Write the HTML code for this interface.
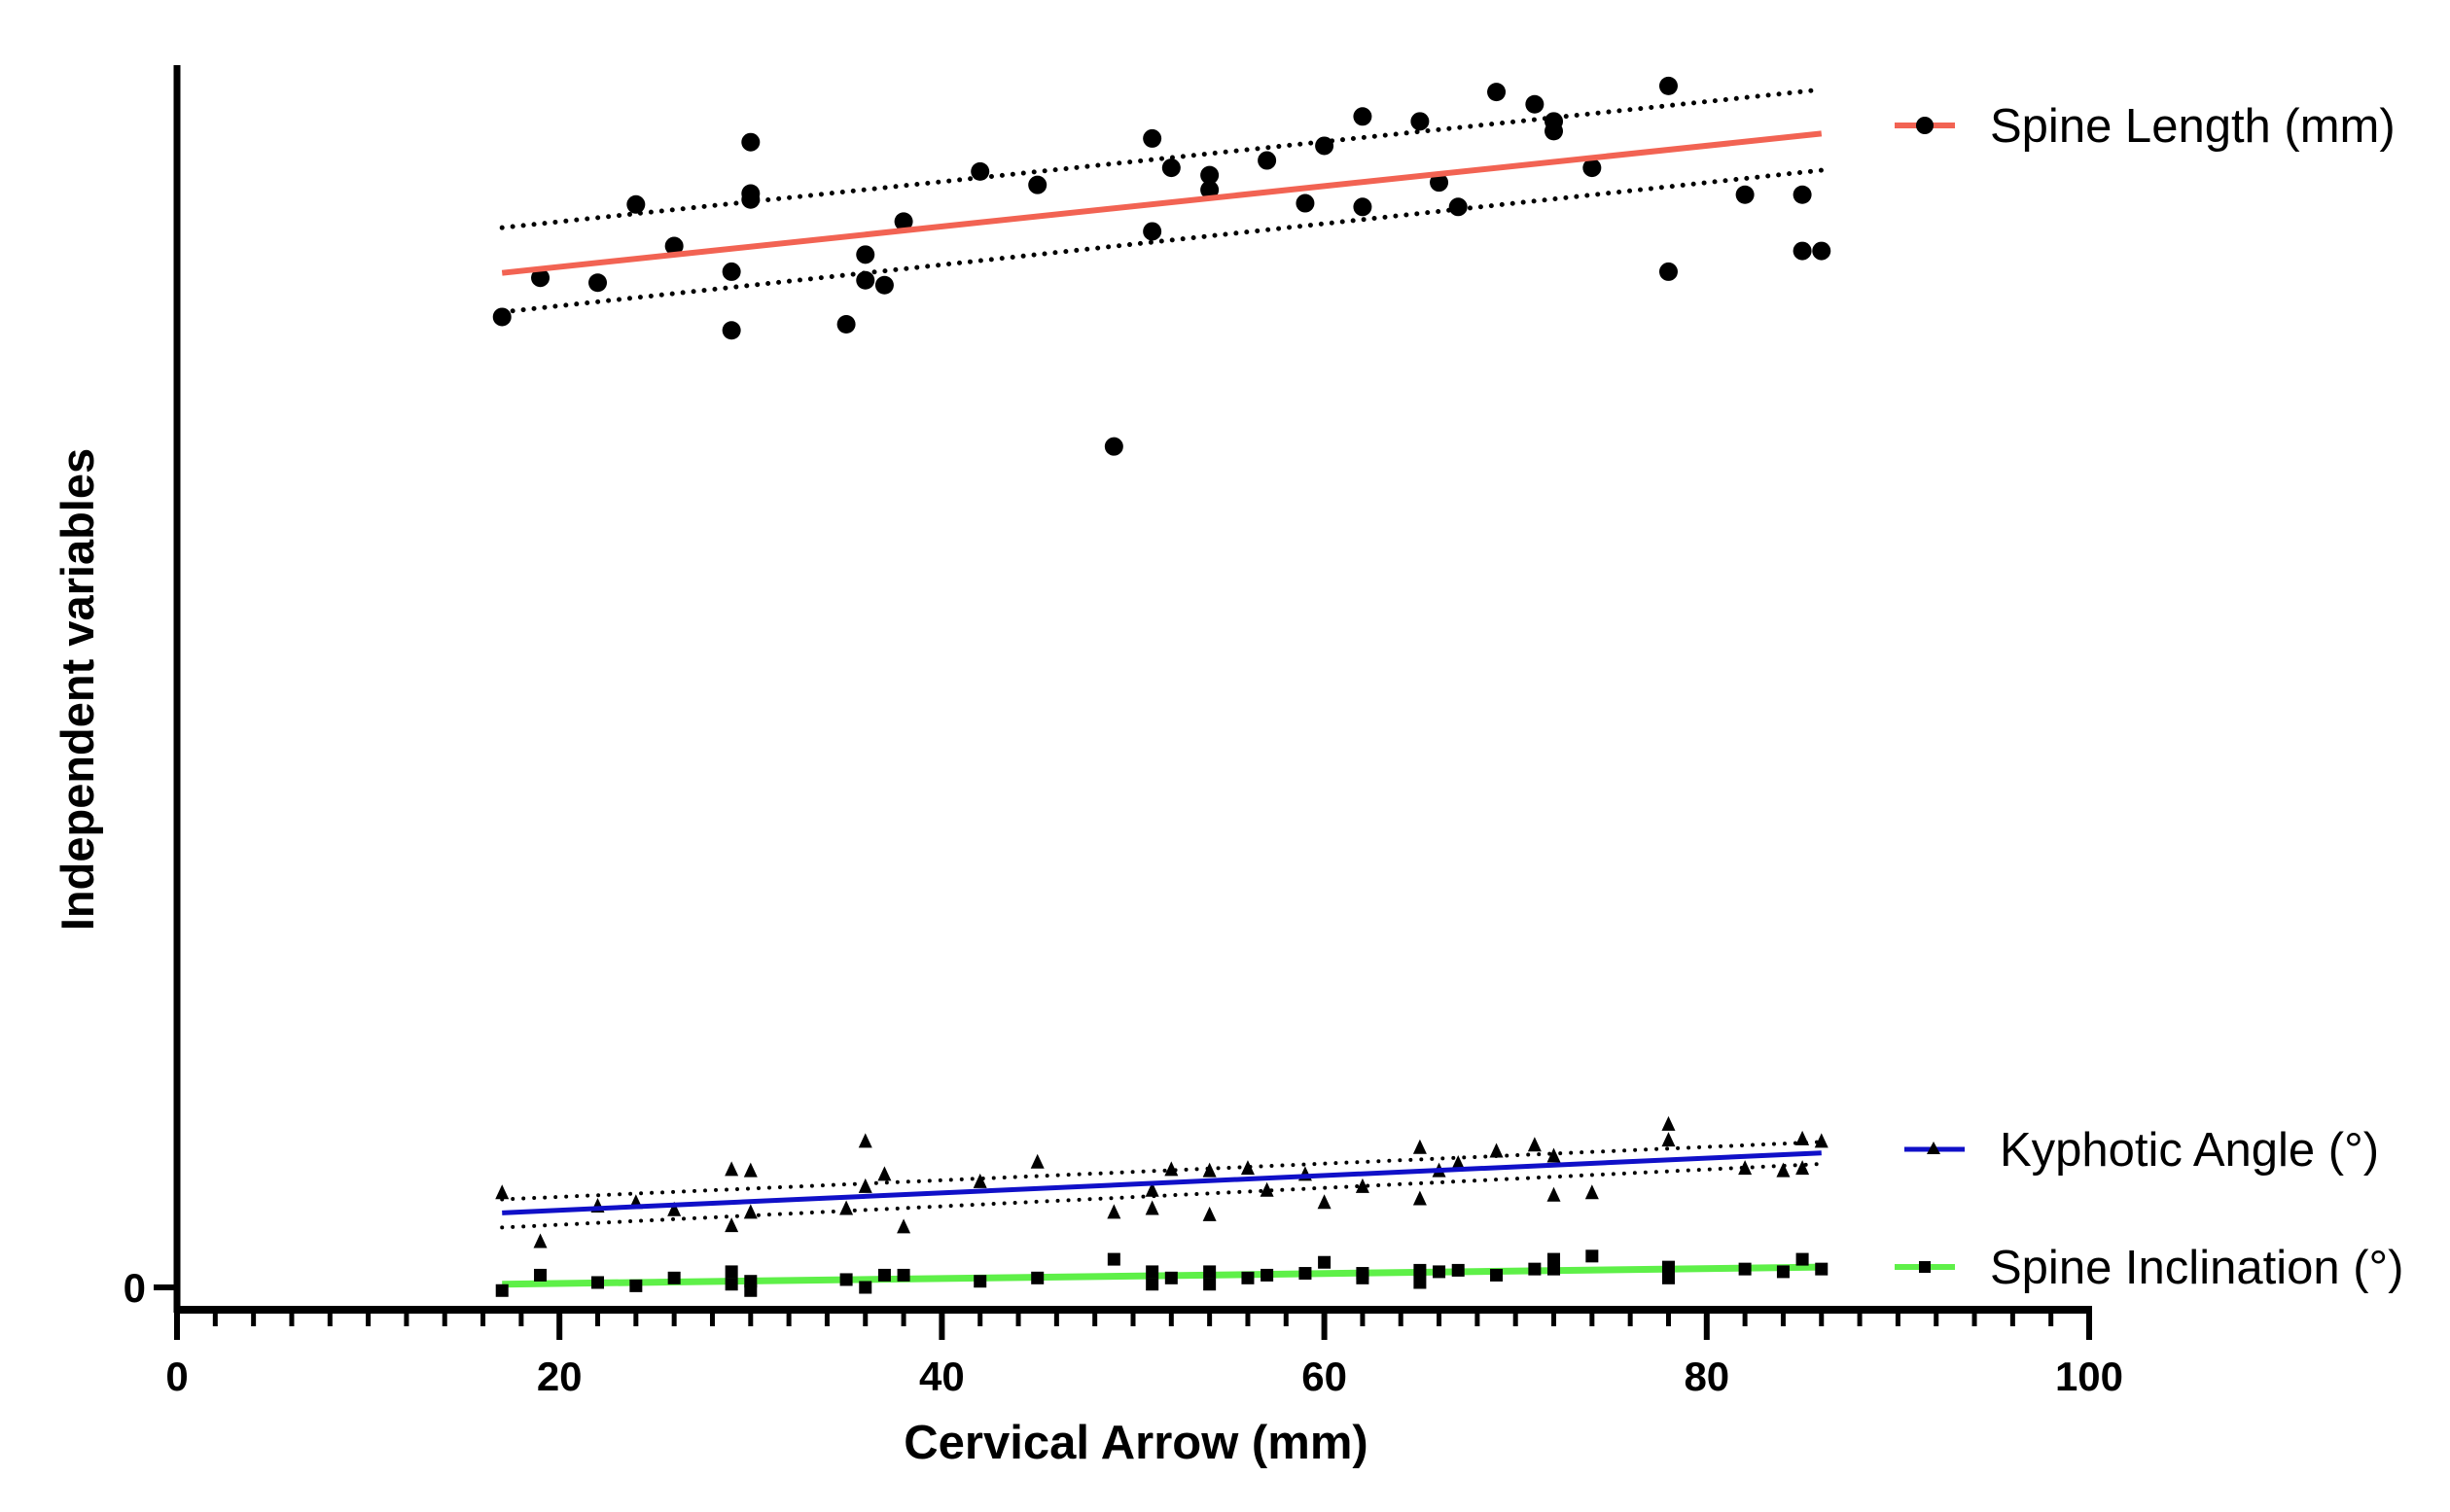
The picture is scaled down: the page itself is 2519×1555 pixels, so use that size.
<!DOCTYPE html>
<html><head><meta charset="utf-8"><style>
html,body{margin:0;padding:0;background:#fff}
svg{display:block}
text{font-family:"Liberation Sans",Arial,sans-serif}
</style></head><body>
<svg id="chart" width="2519" height="1555" viewBox="0 0 2519 1555" xmlns="http://www.w3.org/2000/svg">
<g id="plot"></g>
<g id="axes"></g>
<text x="1168" y="1500" font-size="49" font-weight="bold" text-anchor="middle">Cervical Arrow (mm)</text>
<text transform="translate(96,709) rotate(-90)" font-size="47" font-weight="bold" text-anchor="middle">Independent variables</text>
<g>
<g>
<line x1="1948" y1="129" x2="2010" y2="129" stroke="#f26353" stroke-width="6"/>
<circle cx="1979" cy="129" r="9" fill="#000"/>
<text x="2046" y="146" font-size="49">Spine Length (mm)</text></g>
<g>
<line x1="1958" y1="1182" x2="2020" y2="1182" stroke="#1010c8" stroke-width="5"/>
<polygon points="1988,1174 1995,1187 1981,1187" fill="#000"/>
<text x="2056" y="1199" font-size="49">Kyphotic Angle (°)</text></g>
<g>
<line x1="1948" y1="1303" x2="2010" y2="1303" stroke="#5ef048" stroke-width="6"/>
<rect x="1973" y="1297" width="12" height="12" fill="#000"/>
<text x="2046" y="1320" font-size="49">Spine Inclination (°)</text></g>
</g>
</svg>
<script>
const xTicks=[0,20,40,60,80,100];
const slX=[17,19,22,24,26,29,29,30,30,30,35,36,36,37,38,42,45,49,51,51,52,54,54,57,59,60,62,62,65,66,67,69,71,72,72,74,78,78,82,85,85,86];
const slY=[79.4,82.6,82.2,88.6,85.2,83.1,78.3,93.7,89.5,89.0,78.8,84.5,82.4,82.0,87.2,91.3,90.2,68.8,94.0,86.4,91.6,91.0,89.8,92.2,88.7,93.4,95.8,88.4,95.4,90.4,88.4,97.8,96.8,95.4,94.6,91.6,98.3,83.1,89.4,89.4,84.8,84.8];
const slFit=[83.0,94.4], slUp=[86.7,98.0], slLo=[79.8,91.4];
const kaX=[17,19,22,24,26,29,29,30,30,35,36,36,37,38,42,45,49,51,51,52,54,54,56,57,59,60,62,65,65,66,67,69,71,72,72,74,78,78,82,84,85,85,86];
const kaY=[7.7,3.7,6.6,6.9,6.3,9.6,5.0,9.5,6.1,6.4,11.9,8.2,9.2,4.9,8.6,10.2,6.1,7.9,6.4,9.6,9.5,5.9,9.7,7.9,9.2,6.9,8.2,11.4,7.2,9.5,10.1,11.1,11.6,10.7,7.5,7.7,13.3,12.0,9.7,9.5,12.1,9.7,11.9];
const kaFit=[6.1,11.0], kaUp=[7.2,11.9], kaLo=[4.9,10.1];
const siX=[17,19,22,24,26,29,29,30,30,35,36,37,38,42,45,49,51,51,52,54,54,56,57,59,60,62,62,65,65,66,67,69,71,72,72,74,78,78,82,84,85,86];
const siY=[-0.26,1.0,0.4,0.13,0.77,1.28,0.26,0.5,-0.26,0.64,0,1.0,1.0,0.5,0.77,2.3,1.28,0.26,0.77,1.28,0.26,0.77,1.0,1.15,2.05,1.15,0.77,1.4,0.4,1.28,1.4,1.0,1.5,2.3,1.5,2.56,1.66,0.77,1.5,1.28,2.3,1.5];
const siFit=[0.26,1.66];
const fitRange=[17,86];

const NS="http://www.w3.org/2000/svg";
const X=v=>182+v*19.66;
const Y=v=>1324-v*12.57;
const plot=document.getElementById('plot'), axes=document.getElementById('axes');
function mk(tag,attrs,parent){const e=document.createElementNS(NS,tag);for(const k in attrs)e.setAttribute(k,attrs[k]);parent.appendChild(e);return e;}
function fitLine(vals,color,w,dash,name){
  const l=mk('line',{x1:X(fitRange[0]),y1:Y(vals[0]),x2:X(fitRange[1]),y2:Y(vals[1]),stroke:color,'stroke-width':w},plot);
  if(dash){l.setAttribute('stroke-dasharray','0 11');l.setAttribute('stroke-linecap','round');}
  
  
}
fitLine(slUp,'#000',5,true,'spine-length-upper-band');
fitLine(slLo,'#000',5,true,'spine-length-lower-band');
fitLine(kaUp,'#000',4,true,'kyphotic-upper-band');
fitLine(kaLo,'#000',4,true,'kyphotic-lower-band');
slX.forEach((x,i)=>{const c=mk('circle',{cx:X(x),cy:Y(slY[i]),r:9.5,fill:'#000'},plot);

});
kaX.forEach((x,i)=>{const cx=X(x),cy=Y(kaY[i]);const p=mk('polygon',{points:`${cx},${cy-9} ${cx+7},${cy+6} ${cx-7},${cy+6}`,fill:'#000'},plot);

});
fitLine(siFit,'#5ef048',7,false,'spine-inclination-fit');
siX.forEach((x,i)=>{const r=mk('rect',{x:X(x)-6.5,y:Y(siY[i])-6.5,width:13,height:13,fill:'#000'},plot);

});
fitLine(slFit,'#f26353',6,false,'spine-length-fit');
fitLine(kaFit,'#1010c8',5,false,'kyphotic-angle-fit');
const ya=mk('line',{x1:182,y1:67,x2:182,y2:1350,stroke:'#000','stroke-width':7},axes);


const xa=mk('line',{x1:179,y1:1347,x2:2151,y2:1347,stroke:'#000','stroke-width':8},axes);


const yt=mk('line',{x1:158,y1:Y(0),x2:182,y2:Y(0),stroke:'#000','stroke-width':6},axes);


const yl=mk('text',{x:150,y:Y(0)+15,'font-size':42,'font-weight':'bold','text-anchor':'end'},axes);yl.textContent='0';


for(let v=0;v<=100;v+=2){
  const major=v%20===0;
  const t=mk('line',{x1:X(v),y1:1347,x2:X(v),y2:major?1378:1364,stroke:'#000','stroke-width':major?6:5},axes);
  
  
}
xTicks.forEach(v=>{const t=mk('text',{x:X(v),y:1430,'font-size':42,'font-weight':'bold','text-anchor':'middle'},axes);t.textContent=v;

});
</script>
</body></html>
